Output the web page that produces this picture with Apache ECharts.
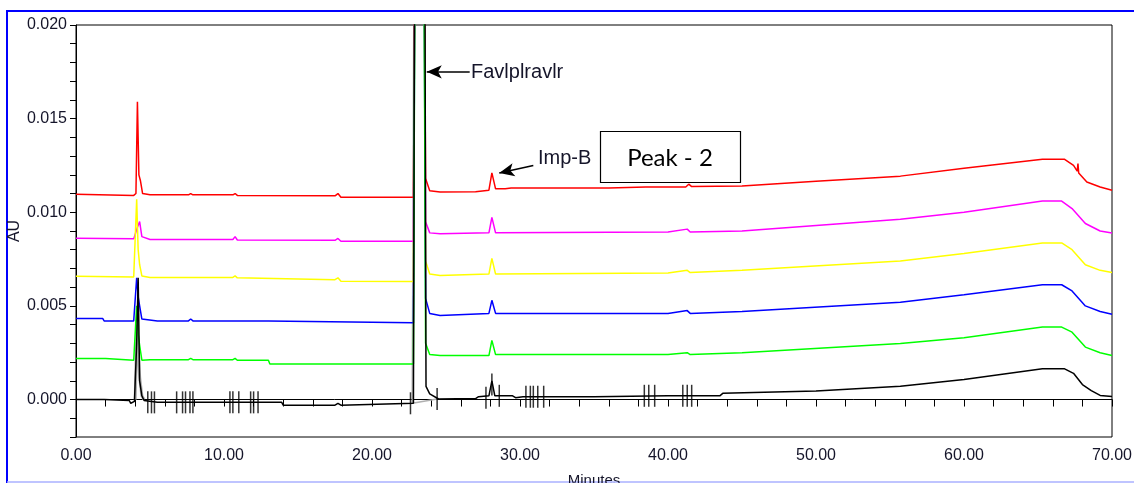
<!DOCTYPE html>
<html>
<head>
<meta charset="utf-8">
<script src="https://cdn.jsdelivr.net/npm/echarts@6/dist/echarts.min.js"></script>
<style>
html,body{margin:0;padding:0;background:#fff;}
#chart{width:1134px;height:483px;}
</style>
</head>
<body>
<div id="chart"></div>
<script>
// ---- data (minutes, AU) ----
const xTickLabels = [0, 10, 20, 30, 40, 50, 60, 70];
const yTickLabels = [0.000, 0.005, 0.010, 0.015, 0.020];

const redTrace = [[0,0.01096],[3.9,0.01090],[4.05,0.0110],[4.15,0.0159],[4.25,0.0120],[4.35,0.0117],[4.5,0.0110],[5.0,0.01093],[7.6,0.01093],[7.75,0.0110],[7.9,0.01093],[10.6,0.01093],[10.75,0.0110],[10.9,0.01090],[17.5,0.01088],[17.7,0.0110],[17.9,0.01080],[22.8,0.01080],[22.93,0.03],[23.48,0.03],[23.62,0.0118],[23.9,0.01115],[24.6,0.01108],[27.0,0.01110],[27.9,0.01118],[28.1,0.01210],[28.35,0.01125],[29.0,0.01126],[29.4,0.0113],[36.0,0.0113],[38.5,0.01135],[41.2,0.01135],[41.4,0.0115],[41.6,0.01137],[45.0,0.0114],[50.0,0.01165],[55.7,0.01193],[60.0,0.01235],[65.3,0.01283],[66.8,0.01283],[67.4,0.0125],[67.65,0.0122],[67.7,0.0126],[67.75,0.0121],[68.3,0.01162],[69.2,0.01135],[70,0.01118]];

const magentaTrace = [[0,0.00861],[3.9,0.00858],[4.15,0.0092],[4.3,0.0095],[4.45,0.0087],[5,0.00855],[10.6,0.00855],[10.75,0.0087],[10.9,0.00852],[17.5,0.0085],[17.7,0.0086],[17.9,0.00845],[22.8,0.00845],[22.93,0.03],[23.48,0.03],[23.62,0.0095],[23.9,0.0089],[24.6,0.00885],[27.9,0.0089],[28.1,0.00973],[28.35,0.0089],[40,0.00895],[41.3,0.0091],[41.5,0.00895],[45,0.0090],[55.7,0.00963],[60,0.0100],[65.3,0.0106],[66.6,0.0106],[67.3,0.0102],[68.2,0.0094],[69.2,0.0090],[70,0.00889]];

const yellowTrace = [[0,0.00658],[3.9,0.00655],[4.1,0.0107],[4.2,0.0080],[4.3,0.0072],[4.45,0.0066],[5,0.00652],[10.6,0.00652],[10.75,0.0066],[10.9,0.0065],[17.5,0.0064],[17.7,0.0065],[17.9,0.00632],[22.8,0.00631],[22.93,0.03],[23.48,0.03],[23.62,0.0074],[23.9,0.0067],[24.6,0.00663],[27.9,0.0067],[28.1,0.00754],[28.35,0.0067],[40,0.00676],[41.3,0.0069],[41.5,0.00678],[45,0.0069],[55.7,0.0074],[60,0.0078],[65.3,0.00836],[66.6,0.00836],[67.3,0.0080],[68.2,0.0072],[69.2,0.0069],[70,0.00678]];

const blueTrace = [[0,0.00433],[1.8,0.00433],[1.9,0.0042],[3.9,0.0042],[4.1,0.0065],[4.2,0.0055],[4.3,0.0050],[4.45,0.0043],[5.5,0.0042],[7.6,0.0042],[7.75,0.0043],[7.9,0.0042],[13,0.0042],[13.1,0.00413],[22.8,0.0041],[22.93,0.03],[23.48,0.03],[23.62,0.0054],[23.9,0.0046],[24.6,0.00449],[27.9,0.0046],[28.1,0.0053],[28.35,0.0046],[40,0.0046],[41.3,0.00475],[41.5,0.0046],[45,0.0047],[55.7,0.00519],[60,0.0056],[65.3,0.00613],[66.6,0.00613],[67.3,0.0058],[68.2,0.0050],[69.2,0.0047],[70,0.00455]];

const greenTrace = [[0,0.00219],[2,0.00219],[2.1,0.0021],[3.9,0.0021],[4.1,0.0050],[4.2,0.0035],[4.3,0.0029],[4.45,0.0021],[5,0.00213],[7.6,0.00213],[7.75,0.0022],[7.9,0.00213],[10.6,0.00213],[10.75,0.0022],[10.9,0.0021],[13,0.0021],[13.1,0.0019],[22.8,0.0019],[22.93,0.03],[23.48,0.03],[23.62,0.0030],[23.9,0.0024],[24.6,0.00235],[27.9,0.00235],[28.1,0.00316],[28.35,0.0024],[40,0.0024],[41.3,0.0025],[41.5,0.0024],[45,0.0025],[55.7,0.00299],[60,0.0033],[65.3,0.00387],[66.6,0.00387],[67.3,0.0036],[68.2,0.0028],[69.2,0.0025],[70,0.00235]];

const blackTrace = [[0,0.0000],[1.9,0.0000],[2.0,-0.00005],[3.6,-0.00005],[3.7,-0.0002],[3.95,-0.0001],[4.1,0.0030],[4.2,0.0065],[4.3,0.0010],[4.45,0.0002],[4.6,-0.00005],[5.5,-0.00015],[8.6,-0.00015],[8.7,-0.00005],[8.8,-0.00015],[13.9,-0.00015],[14.0,-0.0003],[17.5,-0.0003],[17.7,-0.0002],[17.9,-0.0003],[22.8,-0.0002],[22.9,0.03],[23.55,0.03],[23.65,0.0007],[23.9,0.0003],[24.5,0.00003],[27.0,0.00005],[27.2,0.00015],[27.9,0.0002],[28.1,0.0010],[28.3,0.0002],[29.5,0.0002],[29.7,0.0001],[30.2,0.00015],[35,0.00015],[40,0.0002],[43.5,0.0002],[43.7,0.00033],[50,0.00045],[55.7,0.00071],[60,0.00107],[65.3,0.00164],[66.8,0.00164],[67.4,0.0014],[68.0,0.0008],[68.6,0.00048],[69.2,0.00022],[70,0.00016]];

const grayPeak = [[4.0,0.0],[4.12,0.0040],[4.3,0.0012],[4.45,0.0002],[4.6,0.0]];
const grayBase = [[22.87,0.03],[22.72,-0.0002],[24.4,0.00003]];

const eventTimes  = [4.85,5.1,5.3,6.8,7.2,7.4,7.7,7.9,10.4,10.6,11.0,11.8,12.0,12.3,22.6,24.4,27.7,28.1,28.6,30.4,30.7,30.9,31.2,31.6,38.4,38.7,39.1,41.0,41.3,41.6];
const eventLevels = [-0.00015,-0.00015,-0.00015,-0.00015,-0.00015,-0.00015,-0.00015,-0.00015,-0.00015,-0.00015,-0.00015,-0.00015,-0.00015,-0.00015,-0.0002,0.00003,0.0001,0.0008,0.0002,0.00015,0.00015,0.00015,0.00015,0.00015,0.0002,0.0002,0.0002,0.0002,0.0002,0.0002];

const annFavi = {text:'Favlplravlr', from:[26.6,0.0175], to:[23.7,0.0175]};
const annImpB = {text:'Imp-B', from:[30.9,0.0125], to:[28.6,0.0121]};

// ---- chart ----
const chart = echarts.init(document.getElementById('chart'), null, {renderer:'canvas'});
const labelColor = '#15152a';
const axisFont = "'Liberation Sans', Arial, sans-serif";

function lineSeries(name, data, color, z) {
  return {name, type:'line', data, showSymbol:false, symbol:'none', smooth:false,
    lineStyle:{color, width:1.5}, z, animation:false, clip:true};
}

const option = {
  animation:false,
  backgroundColor:'#fff',
  grid:{left:76, right:22, top:25, bottom:46, show:true, borderColor:'#000', borderWidth:1, outerBoundsMode:'none'},
  xAxis:{type:'value', min:0, max:70, interval:2,
    name:'Minutes', nameLocation:'middle', nameGap:36, nameMoveOverlap:false,
    nameTextStyle:{fontFamily:axisFont, fontSize:15, color:labelColor},
    axisLine:{lineStyle:{color:'#000', width:1}},
    axisTick:{length:7, lineStyle:{color:'#000'}},
    axisLabel:{margin:11, fontFamily:axisFont, fontSize:16, color:labelColor,
      formatter:v => xTickLabels.includes(Math.round(v)) && Math.abs(v-Math.round(v))<1e-6 ? v.toFixed(2) : ''},
    splitLine:{show:false}},
  yAxis:{type:'value', min:-0.002, max:0.020, interval:0.001,
    name:'AU', nameLocation:'middle', nameGap:53, nameRotate:90, nameMoveOverlap:false,
    nameTextStyle:{fontFamily:axisFont, fontSize:16, color:labelColor},
    axisLine:{show:true, lineStyle:{color:'#000', width:1}},
    axisTick:{show:true, length:6, lineStyle:{color:'#000'}},
    axisLabel:{margin:9, fontFamily:axisFont, fontSize:16, color:labelColor,
      formatter:v => { const k = Math.round(v*1000); return yTickLabels.some(t => Math.round(t*1000) === k) ? (k/1000).toFixed(3) : ''; }},
    splitLine:{show:false}},
  series:[
    lineSeries('gray-base', grayBase, '#b0b0b0', 1),
    {name:'gray-peak', type:'line', data:grayPeak, symbol:'none', lineStyle:{color:'#b0b0b0', width:3}, z:1, animation:false},
    lineSeries('red', redTrace, '#ff0000', 2),
    lineSeries('magenta', magentaTrace, '#ff00ff', 3),
    lineSeries('yellow', yellowTrace, '#ffff00', 4),
    lineSeries('blue', blueTrace, '#0000ff', 5),
    lineSeries('green', greenTrace, '#00ff00', 6),
    Object.assign(lineSeries('black', blackTrace, '#000000', 7), {
      markLine:{silent:true, animation:false, symbolSize:[10,15],
        label:{show:false}, lineStyle:{color:'#000', width:1.5, type:'solid'},
        data:[
          [{coord:annFavi.from, symbol:'none'},{coord:annFavi.to, symbol:'arrow'}],
          [{coord:annImpB.from, symbol:'none'},{coord:annImpB.to, symbol:'arrow'}]
        ]}
    }),
    {name:'events', type:'scatter', data:eventTimes.map((t,i)=>[t, eventLevels[i]]),
      symbol:'rect', symbolSize:[1.5,22], itemStyle:{color:'#000'}, z:8, animation:false, silent:true}
  ],
  graphic:[
    {type:'line', shape:{x1:7, y1:11, x2:7, y2:483}, style:{stroke:'#0000ff', lineWidth:2}, silent:true},
    {type:'line', shape:{x1:6, y1:11, x2:1134, y2:11}, style:{stroke:'#0000ff', lineWidth:2}, silent:true},
    {type:'line', shape:{x1:7, y1:482, x2:1134, y2:482}, style:{stroke:'#aab0ff', lineWidth:1.5}, silent:true},
    {type:'text', x:471, y:72, style:{text:annFavi.text, font:"20px 'Liberation Sans', Arial, sans-serif", fill:labelColor, textVerticalAlign:'middle'}, silent:true, z:20},
    {type:'text', x:538, y:158, style:{text:annImpB.text, font:"20px 'Liberation Sans', Arial, sans-serif", fill:labelColor, textVerticalAlign:'middle'}, silent:true, z:20},
    {type:'rect', shape:{x:600.5, y:131.5, width:140, height:51}, style:{fill:'#fff', stroke:'#000', lineWidth:1.2}, silent:true, z:20},
    {type:'text', x:670, y:158, style:{text:'Peak - 2', font:"24px Lato, 'Open Sans', sans-serif", fill:'#000', textAlign:'center', textVerticalAlign:'middle'}, silent:true, z:21}
  ]
};
chart.setOption(option);
</script>
</body>
</html>
